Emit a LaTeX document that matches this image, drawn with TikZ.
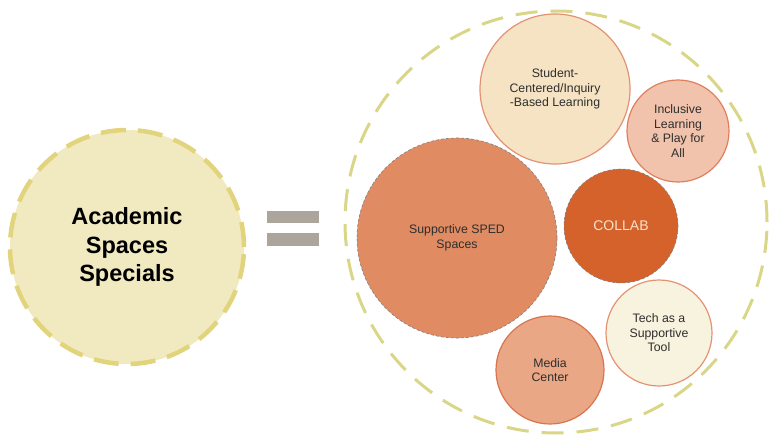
\documentclass[tikz,border=0pt]{standalone}
\usepackage{fontspec}
\setmainfont{Liberation Sans}
\usetikzlibrary{positioning}

\definecolor{specfill}{HTML}{F1EAC0}
\definecolor{specline}{HTML}{E2D47C}
\definecolor{ringline}{HTML}{D9D688}
\definecolor{eqgray}{HTML}{ACA59B}
\definecolor{spedfill}{HTML}{E08B62}
\definecolor{collabfill}{HTML}{D5622B}
\definecolor{collabtext}{HTML}{F7E3CC}
\definecolor{studfill}{HTML}{F5E3C3}
\definecolor{studline}{HTML}{E49274}
\definecolor{inclfill}{HTML}{F2C3AC}
\definecolor{inclline}{HTML}{E07F5C}
\definecolor{techfill}{HTML}{F8F3DE}
\definecolor{techline}{HTML}{E59273}
\definecolor{mediafill}{HTML}{EAA785}
\definecolor{medialine}{HTML}{D8744E}
\definecolor{inktext}{HTML}{2E2E2E}

\tikzset{
  bubble/.style={circle, inner sep=0pt, align=center, text=inktext,
    font=\fontsize{12.3}{14.5}\selectfont},
  bigbubble/.style={bubble, draw=gray, line width=0.6pt, densely dashed},
  smallbubble/.style={bubble, draw, line width=1.2pt},
  eqbar/.style={fill=eqgray, minimum width=52pt, minimum height=12.5pt, inner sep=0pt}
}

\begin{document}
\begin{tikzpicture}[x=1pt, y=-1pt]
    \useasboundingbox (0,0) rectangle (770,438);
    \path (127,247) node [circle, minimum size=234pt, inner sep=0pt, fill=specfill, draw=specline,
        line width=4.5pt, dash pattern=on 25pt off 12pt, align=center,
        font=\bfseries\fontsize{23.5}{28.5}\selectfont] (specials) {Academic\\Spaces\\Specials};
    \path (293,217) node [eqbar] (eqtop) {};
    \path (293,239.5) node [eqbar] (eqbot) {};
    \path (556,222) node [circle, minimum size=422pt, inner sep=0pt, draw=ringline,
        line width=3pt, dash pattern=on 22pt off 13pt] (ring) {};
    \path (457,238) node [bigbubble, minimum size=200pt, fill=spedfill] (sped) {Supportive SPED\\Spaces};
    \path (621,226) node [bigbubble, minimum size=114pt, fill=collabfill, text=collabtext,
        font=\fontsize{14}{16}\selectfont] (collab) {COLLAB};
    \path (555,89) node [smallbubble, minimum size=150pt, fill=studfill, draw=studline] (student) {Student-\\Centered/Inquiry\\-Based Learning};
    \path (678,131) node [smallbubble, minimum size=102pt, fill=inclfill, draw=inclline] (inclusive) {Inclusive\\Learning\\\& Play for\\All};
    \path (659,333) node [smallbubble, minimum size=106pt, fill=techfill, draw=techline] (tech) {Tech as a\\Supportive\\Tool};
    \path (550,370) node [smallbubble, minimum size=108pt, fill=mediafill, draw=medialine] (media) {Media\\Center};
\end{tikzpicture}
\end{document}
